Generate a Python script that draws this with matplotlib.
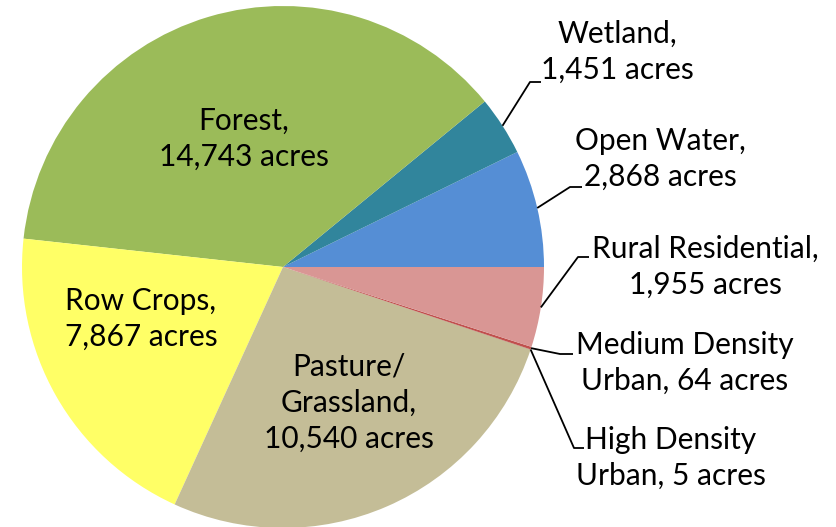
import numpy as np
import matplotlib.pyplot as plt

# Land use acres (counter-clockwise from 3 o'clock)
categories = ['Open Water', 'Wetland', 'Forest', 'Row Crops',
              'Pasture/\nGrassland', 'High Density\nUrban',
              'Medium Density\nUrban', 'Rural Residential']
acres = [2868, 1451, 14743, 7867, 10540, 5, 64, 1955]
labels = ['Open Water,\n2,868 acres', 'Wetland,\n1,451 acres',
          'Forest,\n14,743 acres', 'Row Crops,\n7,867 acres',
          'Pasture/\nGrassland,\n10,540 acres', 'High Density\nUrban, 5 acres',
          'Medium Density\nUrban, 64 acres',
          'Rural Residential,\n1,955 acres']
colors = ['#558ED5', '#31859C', '#9BBB59', '#FFFF66', '#C4BD97', '#953735',
          '#C0504D', '#D99694']

W, H = 837, 527
fig = plt.figure(figsize=(W / 100, H / 100), dpi=100)
ax = fig.add_axes([0, 0, 1, 1])

cx, cy, rad = 283, H - 267, 261
wedges, _ = ax.pie(acres, startangle=0, counterclock=True, colors=colors,
                   center=(cx, cy), radius=rad, frame=True,
                   wedgeprops=dict(linewidth=0))
ax.set_xlim(0, W)
ax.set_ylim(0, H)
ax.set_aspect('equal')
ax.axis('off')

font = dict(family='Lato', fontsize=21.5, color='black', ha='center',
            va='center', linespacing=1.36)

# inside labels (pixel positions, y from top)
inside = {2: (244, 139), 3: (141, 319), 4: (349, 403)}
for i, (x, y) in inside.items():
    ax.text(x, H - y, labels[i], **font)

# outside labels: text centre, elbow point, end point of leader
outside = {
    1: ((617, 52), (530, 82), (541, 82)),
    0: ((660, 159), (570, 187), (582, 187)),
    7: ((705, 267), (578, 257), (589, 257)),
    6: ((685, 363), (560, 354), (573, 354)),
    5: ((671, 458), (574, 448), (584, 448)),
}
for i, (txt, elbow, end) in outside.items():
    w = wedges[i]
    mid = np.deg2rad((w.theta1 + w.theta2) / 2)
    sx = cx + rad * np.cos(mid)
    sy = cy + rad * np.sin(mid)
    ax.plot([sx, elbow[0], end[0]], [sy, H - elbow[1], H - end[1]],
            color='black', lw=1.3, solid_capstyle='butt')
    ax.text(txt[0], H - txt[1], labels[i], **font)

plt.savefig('out.png', dpi=100)
